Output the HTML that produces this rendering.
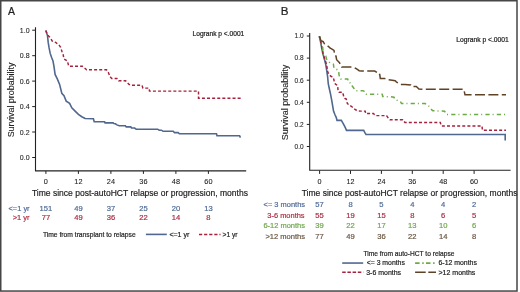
<!DOCTYPE html>
<html><head><meta charset="utf-8"><style>
html,body{margin:0;padding:0;background:#fff;}
svg{display:block;will-change:transform;font-family:"Liberation Sans",sans-serif;}
</style></head><body>
<svg width="520" height="292" viewBox="0 0 520 292">
<rect x="0" y="0" width="520" height="292" fill="#fff"/>
<path d="M35.5,27.3 V171 M35,170.9 H246.2" stroke="#222" stroke-width="1.1" fill="none"/>
<path d="M32.2,157.5 H35.5" stroke="#222" stroke-width="1"/>
<text x="29.6" y="160.0" font-size="7" text-anchor="end" fill="#222" stroke="#222" stroke-width="0.08">0.0</text>
<path d="M32.2,132.0 H35.5" stroke="#222" stroke-width="1"/>
<text x="29.6" y="134.54" font-size="7" text-anchor="end" fill="#222" stroke="#222" stroke-width="0.08">0.2</text>
<path d="M32.2,106.6 H35.5" stroke="#222" stroke-width="1"/>
<text x="29.6" y="109.08" font-size="7" text-anchor="end" fill="#222" stroke="#222" stroke-width="0.08">0.4</text>
<path d="M32.2,81.1 H35.5" stroke="#222" stroke-width="1"/>
<text x="29.6" y="83.62" font-size="7" text-anchor="end" fill="#222" stroke="#222" stroke-width="0.08">0.6</text>
<path d="M32.2,55.7 H35.5" stroke="#222" stroke-width="1"/>
<text x="29.6" y="58.16" font-size="7" text-anchor="end" fill="#222" stroke="#222" stroke-width="0.08">0.8</text>
<path d="M32.2,30.2 H35.5" stroke="#222" stroke-width="1"/>
<text x="29.6" y="32.7" font-size="7" text-anchor="end" fill="#222" stroke="#222" stroke-width="0.08">1.0</text>
<path d="M45.9,171 V173.9" stroke="#222" stroke-width="1"/>
<text x="45.9" y="183.6" font-size="7.3" text-anchor="middle" fill="#222" stroke="#222" stroke-width="0.08">0</text>
<path d="M78.4,171 V173.9" stroke="#222" stroke-width="1"/>
<text x="78.4" y="183.6" font-size="7.3" text-anchor="middle" fill="#222" stroke="#222" stroke-width="0.08">12</text>
<path d="M110.9,171 V173.9" stroke="#222" stroke-width="1"/>
<text x="110.9" y="183.6" font-size="7.3" text-anchor="middle" fill="#222" stroke="#222" stroke-width="0.08">24</text>
<path d="M143.4,171 V173.9" stroke="#222" stroke-width="1"/>
<text x="143.4" y="183.6" font-size="7.3" text-anchor="middle" fill="#222" stroke="#222" stroke-width="0.08">36</text>
<path d="M175.9,171 V173.9" stroke="#222" stroke-width="1"/>
<text x="175.9" y="183.6" font-size="7.3" text-anchor="middle" fill="#222" stroke="#222" stroke-width="0.08">48</text>
<path d="M208.4,171 V173.9" stroke="#222" stroke-width="1"/>
<text x="208.4" y="183.6" font-size="7.3" text-anchor="middle" fill="#222" stroke="#222" stroke-width="0.08">60</text>
<path d="M309.7,33.1 V170.8 M309.2,170.3 H510.6" stroke="#222" stroke-width="1.1" fill="none"/>
<path d="M306.8,146.5 H309.7" stroke="#222" stroke-width="1"/>
<text x="303.6" y="148.8" font-size="6.5" text-anchor="end" fill="#222" stroke="#222" stroke-width="0.08">0.0</text>
<path d="M306.8,124.4 H309.7" stroke="#222" stroke-width="1"/>
<text x="303.6" y="126.7" font-size="6.5" text-anchor="end" fill="#222" stroke="#222" stroke-width="0.08">0.2</text>
<path d="M306.8,102.3 H309.7" stroke="#222" stroke-width="1"/>
<text x="303.6" y="104.6" font-size="6.5" text-anchor="end" fill="#222" stroke="#222" stroke-width="0.08">0.4</text>
<path d="M306.8,80.2 H309.7" stroke="#222" stroke-width="1"/>
<text x="303.6" y="82.5" font-size="6.5" text-anchor="end" fill="#222" stroke="#222" stroke-width="0.08">0.6</text>
<path d="M306.8,58.1 H309.7" stroke="#222" stroke-width="1"/>
<text x="303.6" y="60.39999999999999" font-size="6.5" text-anchor="end" fill="#222" stroke="#222" stroke-width="0.08">0.8</text>
<path d="M306.8,36.0 H309.7" stroke="#222" stroke-width="1"/>
<text x="303.6" y="38.3" font-size="6.5" text-anchor="end" fill="#222" stroke="#222" stroke-width="0.08">1.0</text>
<path d="M319.6,170.5 V173.9" stroke="#222" stroke-width="1"/>
<text x="319.6" y="183.6" font-size="7.2" text-anchor="middle" fill="#222" stroke="#222" stroke-width="0.08">0</text>
<path d="M350.5,170.5 V173.9" stroke="#222" stroke-width="1"/>
<text x="350.5" y="183.6" font-size="7.2" text-anchor="middle" fill="#222" stroke="#222" stroke-width="0.08">12</text>
<path d="M381.4,170.5 V173.9" stroke="#222" stroke-width="1"/>
<text x="381.40000000000003" y="183.6" font-size="7.2" text-anchor="middle" fill="#222" stroke="#222" stroke-width="0.08">24</text>
<path d="M412.3,170.5 V173.9" stroke="#222" stroke-width="1"/>
<text x="412.3" y="183.6" font-size="7.2" text-anchor="middle" fill="#222" stroke="#222" stroke-width="0.08">36</text>
<path d="M443.2,170.5 V173.9" stroke="#222" stroke-width="1"/>
<text x="443.20000000000005" y="183.6" font-size="7.2" text-anchor="middle" fill="#222" stroke="#222" stroke-width="0.08">48</text>
<path d="M474.1,170.5 V173.9" stroke="#222" stroke-width="1"/>
<text x="474.1" y="183.6" font-size="7.2" text-anchor="middle" fill="#222" stroke="#222" stroke-width="0.08">60</text>
<polyline points="45.8,30.5 47.5,35.6 48.2,42.4 49.1,47.9 50.2,53.4 51.6,57.5 53.0,61.0 54.0,66.7 55.1,74.4 57.3,78.9 59.6,84.4 61.8,93.3 64.0,95.6 66.2,101.1 69.6,103.3 71.8,107.8 75.1,111.1 78.4,114.4 81.8,116.7 85.1,118.5 93.4,118.8 94.2,121.8 104.6,121.8 105.1,122.9 113.1,122.9 113.8,123.6 115.4,123.8 116.9,124.9 119.2,125.8 125.4,125.8 126.2,126.9 130.8,126.9 131.5,128.0 134.6,128.0 136.2,129.2 157.7,129.2 159.2,130.2 161.5,130.2 163.1,131.3 173.2,131.3 174.5,132.6 178.1,132.6 179.4,133.8 216.5,133.8 217.0,135.8 239.6,135.8 240.4,137.6" fill="none" stroke="#50678f" stroke-width="1.6" stroke-linejoin="miter"/>
<polyline points="45.8,30.5 47.5,34.9 50.2,37.6 52.3,41.1 55.7,42.4 59.1,45.2 60.5,47.2 61.9,51.3 63.2,54.8 63.9,58.9 67.3,60.9 68.8,66.2 82.3,66.2 84.0,67.5 86.6,69.8 106.5,69.8 108.3,72.3 110.0,76.6 111.7,78.4 116.9,78.4 118.6,80.8 125.6,80.8 129.0,84.4 130.7,85.3 142.0,85.3 142.9,88.1 149.0,88.1 149.5,91.1 198.5,91.1 198.5,98.2 241.2,98.2" fill="none" stroke="#a6213b" stroke-width="1.45" stroke-linejoin="miter" stroke-dasharray="3 2.1"/>
<polyline points="319.4,36.3 320.6,42.0 321.7,48.0 322.7,53.0 324.1,58.0 325.7,64.2 326.7,70.3 327.6,76.5 328.3,84.0 329.5,89.5 330.6,94.3 331.5,99.1 332.2,103.2 332.9,107.3 333.6,111.4 335.0,114.8 336.3,117.6 337.0,120.4 341.3,120.4 343.1,123.3 345.2,127.4 346.5,130.4 363.7,130.4 365.0,132.9 366.0,134.5 505.2,134.5 505.2,140.4" fill="none" stroke="#50678f" stroke-width="1.6" stroke-linejoin="miter"/>
<polyline points="319.4,36.3 320.8,42.0 322.0,48.0 323.2,54.0 324.6,59.0 326.2,63.1 327.2,68.3 327.7,71.4 328.7,74.4 331.3,76.5 332.8,77.0 333.9,79.6 334.4,82.7 335.5,84.1 337.6,85.6 338.1,90.7 339.1,92.3 342.7,92.3 343.2,94.3 343.8,96.9 344.8,98.4 346.3,99.0 346.8,101.5 347.4,103.6 348.9,104.8 351.0,106.2 352.5,107.2 354.6,109.2 356.1,110.0 358.7,111.0 360.7,111.1 365.2,111.1 365.7,113.5 373.4,113.5 375.4,115.6 386.6,115.6 388.3,118.1 390.0,119.8 402.8,119.8 404.9,122.4 440.3,122.4 441.3,125.9 482.0,125.9 482.4,130.2 506.0,130.2" fill="none" stroke="#a6213b" stroke-width="1.45" stroke-linejoin="miter" stroke-dasharray="3 2.1"/>
<polyline points="319.4,36.3 320.6,43.2 321.1,46.3 322.7,47.4 323.2,55.6 325.8,56.1 326.5,59.0 329.2,62.1 330.3,63.1 333.4,64.2 333.9,67.8 335.4,68.8 338.5,70.3 339.0,74.4 339.5,77.0 340.6,79.1 347.7,79.1 348.4,82.0 351.5,83.5 352.0,85.6 353.5,87.7 354.6,89.7 355.6,90.7 363.1,90.7 364.7,91.7 365.2,93.7 366.2,94.2 382.2,94.2 382.7,96.5 390.9,96.8 394.0,97.3 395.0,99.4 397.0,100.3 398.3,100.3 400.5,101.7 401.5,103.6 425.2,103.6 427.4,105.5 429.5,106.5 430.6,108.7 432.8,110.8 444.6,111.2 445.7,113.0 446.7,114.6 506.0,114.6" fill="none" stroke="#6cab45" stroke-width="1.5" stroke-linejoin="miter" stroke-dasharray="4.2 3 1 3.2"/>
<polyline points="319.4,36.3 320.1,38.6 321.1,40.7 323.2,41.7 324.7,44.3 326.8,45.3 328.8,46.8 329.9,47.9 332.4,49.4 334.0,50.4 334.5,53.5 335.0,55.6 336.0,56.1 336.6,59.7 338.1,61.2 339.5,62.6 340.6,65.2 341.6,67.1 351.5,67.1 354.6,67.7 356.2,68.7 357.7,69.7 359.2,70.7 361.3,71.0 374.7,71.0 376.9,72.3 378.8,72.3 379.8,74.8 380.3,78.4 384.4,78.4 386.5,79.0 388.6,79.8 392.2,80.3 395.2,80.8 396.3,81.8 397.8,82.8 398.8,83.4 401.4,84.4 405.0,84.4 410.7,84.9 411.7,86.4 416.3,86.4 417.9,88.0 418.9,89.0 423.0,89.3 463.8,89.3 465.0,94.8 506.0,94.8" fill="none" stroke="#5f4327" stroke-width="1.5" stroke-linejoin="miter" stroke-dasharray="10 3.4"/>
<text x="8.06" y="14.5" font-size="10.8" text-anchor="start" fill="#222" stroke="#222" stroke-width="0.2" textLength="6.98" lengthAdjust="spacingAndGlyphs">A</text>
<text x="280.87" y="14.8" font-size="10.8" text-anchor="start" fill="#222" stroke="#222" stroke-width="0.2" textLength="7.75" lengthAdjust="spacingAndGlyphs">B</text>
<text x="192.58" y="35.5" font-size="6.5" text-anchor="start" fill="#222" stroke="#222" stroke-width="0.2" textLength="51.68" lengthAdjust="spacingAndGlyphs">Logrank p &lt;.0001</text>
<text x="456.17" y="41.9" font-size="6.5" text-anchor="start" fill="#222" stroke="#222" stroke-width="0.2" textLength="52.65" lengthAdjust="spacingAndGlyphs">Logrank p &lt;.0001</text>
<text x="31.9" y="196.3" font-size="9.8" text-anchor="start" fill="#222" stroke="#222" stroke-width="0.2" textLength="216.0" lengthAdjust="spacingAndGlyphs">Time since post-autoHCT relapse or progression, months</text>
<text x="301.7" y="196.2" font-size="9.7" text-anchor="start" fill="#222" stroke="#222" stroke-width="0.2" textLength="215.8" lengthAdjust="spacingAndGlyphs">Time since post-autoHCT relapse or progression, months</text>
<text x="8.48" y="210.7" font-size="7.6" text-anchor="start" fill="#4f6b98" stroke="#4f6b98" stroke-width="0.2" textLength="21.13" lengthAdjust="spacingAndGlyphs">&lt;=1 yr</text>
<text x="12.76" y="219.8" font-size="7.6" text-anchor="start" fill="#ad2f46" stroke="#ad2f46" stroke-width="0.2" textLength="16.8" lengthAdjust="spacingAndGlyphs">&gt;1 yr</text>
<text x="42.9" y="236.9" font-size="7.4" text-anchor="start" fill="#222" stroke="#222" stroke-width="0.2" textLength="92.8" lengthAdjust="spacingAndGlyphs">Time from transplant to relapse</text>
<text x="169.4" y="236.5" font-size="7.4" text-anchor="start" fill="#222" stroke="#222" stroke-width="0.2" textLength="19.9" lengthAdjust="spacingAndGlyphs">&lt;=1 yr</text>
<text x="222.6" y="236.5" font-size="7.4" text-anchor="start" fill="#222" stroke="#222" stroke-width="0.2" textLength="14.95" lengthAdjust="spacingAndGlyphs">&gt;1 yr</text>
<text x="263.59" y="207.4" font-size="7.6" text-anchor="start" fill="#4f6b98" stroke="#4f6b98" stroke-width="0.2" textLength="41.43" lengthAdjust="spacingAndGlyphs">&lt;= 3 months</text>
<text x="267.33" y="217.7" font-size="7.6" text-anchor="start" fill="#ad2f46" stroke="#ad2f46" stroke-width="0.2" textLength="37.24" lengthAdjust="spacingAndGlyphs">3-6 months</text>
<text x="263.48" y="228.1" font-size="7.6" text-anchor="start" fill="#6fa84c" stroke="#6fa84c" stroke-width="0.2" textLength="41.53" lengthAdjust="spacingAndGlyphs">6-12 months</text>
<text x="265.4" y="238.5" font-size="7.6" text-anchor="start" fill="#6a5744" stroke="#6a5744" stroke-width="0.2" textLength="39.59" lengthAdjust="spacingAndGlyphs">&gt;12 months</text>
<text x="363.4" y="255.8" font-size="7.4" text-anchor="start" fill="#222" stroke="#222" stroke-width="0.2" textLength="91.1" lengthAdjust="spacingAndGlyphs">Time from auto-HCT to relapse</text>
<text x="366.72" y="265.2" font-size="7.4" text-anchor="start" fill="#222" stroke="#222" stroke-width="0.2" textLength="38.16" lengthAdjust="spacingAndGlyphs">&lt;= 3 months</text>
<text x="366.25" y="274.5" font-size="7.4" text-anchor="start" fill="#222" stroke="#222" stroke-width="0.2" textLength="34.8" lengthAdjust="spacingAndGlyphs">3-6 months</text>
<text x="438.52" y="265.2" font-size="7.4" text-anchor="start" fill="#222" stroke="#222" stroke-width="0.2" textLength="38.37" lengthAdjust="spacingAndGlyphs">6-12 months</text>
<text x="438.53" y="274.5" font-size="7.4" text-anchor="start" fill="#222" stroke="#222" stroke-width="0.2" textLength="36.84" lengthAdjust="spacingAndGlyphs">&gt;12 months</text>
<text transform="translate(14.4,137.35) rotate(-90)" font-size="9.7" fill="#222" stroke="#222" stroke-width="0.1" textLength="74.85" lengthAdjust="spacingAndGlyphs">Survival probability</text>
<text transform="translate(288.4,140.25) rotate(-90)" font-size="9.7" fill="#222" stroke="#222" stroke-width="0.1" textLength="75.45" lengthAdjust="spacingAndGlyphs">Survival probability</text>
<text x="45.9" y="210.6" font-size="7.6" text-anchor="middle" fill="#4f6b98" stroke="#4f6b98" stroke-width="0.2">151</text>
<text x="78.4" y="210.6" font-size="7.6" text-anchor="middle" fill="#4f6b98" stroke="#4f6b98" stroke-width="0.2">49</text>
<text x="110.9" y="210.6" font-size="7.6" text-anchor="middle" fill="#4f6b98" stroke="#4f6b98" stroke-width="0.2">37</text>
<text x="143.4" y="210.6" font-size="7.6" text-anchor="middle" fill="#4f6b98" stroke="#4f6b98" stroke-width="0.2">25</text>
<text x="175.9" y="210.6" font-size="7.6" text-anchor="middle" fill="#4f6b98" stroke="#4f6b98" stroke-width="0.2">20</text>
<text x="208.4" y="210.6" font-size="7.6" text-anchor="middle" fill="#4f6b98" stroke="#4f6b98" stroke-width="0.2">13</text>
<text x="45.9" y="219.8" font-size="7.6" text-anchor="middle" fill="#ad2f46" stroke="#ad2f46" stroke-width="0.2">77</text>
<text x="78.4" y="219.8" font-size="7.6" text-anchor="middle" fill="#ad2f46" stroke="#ad2f46" stroke-width="0.2">49</text>
<text x="110.9" y="219.8" font-size="7.6" text-anchor="middle" fill="#ad2f46" stroke="#ad2f46" stroke-width="0.2">36</text>
<text x="143.4" y="219.8" font-size="7.6" text-anchor="middle" fill="#ad2f46" stroke="#ad2f46" stroke-width="0.2">22</text>
<text x="175.9" y="219.8" font-size="7.6" text-anchor="middle" fill="#ad2f46" stroke="#ad2f46" stroke-width="0.2">14</text>
<text x="208.4" y="219.8" font-size="7.6" text-anchor="middle" fill="#ad2f46" stroke="#ad2f46" stroke-width="0.2">8</text>
<text x="319.6" y="207.4" font-size="7.6" text-anchor="middle" fill="#4f6b98" stroke="#4f6b98" stroke-width="0.2">57</text>
<text x="350.5" y="207.4" font-size="7.6" text-anchor="middle" fill="#4f6b98" stroke="#4f6b98" stroke-width="0.2">8</text>
<text x="381.40000000000003" y="207.4" font-size="7.6" text-anchor="middle" fill="#4f6b98" stroke="#4f6b98" stroke-width="0.2">5</text>
<text x="412.3" y="207.4" font-size="7.6" text-anchor="middle" fill="#4f6b98" stroke="#4f6b98" stroke-width="0.2">4</text>
<text x="443.20000000000005" y="207.4" font-size="7.6" text-anchor="middle" fill="#4f6b98" stroke="#4f6b98" stroke-width="0.2">4</text>
<text x="474.1" y="207.4" font-size="7.6" text-anchor="middle" fill="#4f6b98" stroke="#4f6b98" stroke-width="0.2">2</text>
<text x="319.6" y="217.7" font-size="7.6" text-anchor="middle" fill="#ad2f46" stroke="#ad2f46" stroke-width="0.2">55</text>
<text x="350.5" y="217.7" font-size="7.6" text-anchor="middle" fill="#ad2f46" stroke="#ad2f46" stroke-width="0.2">19</text>
<text x="381.40000000000003" y="217.7" font-size="7.6" text-anchor="middle" fill="#ad2f46" stroke="#ad2f46" stroke-width="0.2">15</text>
<text x="412.3" y="217.7" font-size="7.6" text-anchor="middle" fill="#ad2f46" stroke="#ad2f46" stroke-width="0.2">8</text>
<text x="443.20000000000005" y="217.7" font-size="7.6" text-anchor="middle" fill="#ad2f46" stroke="#ad2f46" stroke-width="0.2">6</text>
<text x="474.1" y="217.7" font-size="7.6" text-anchor="middle" fill="#ad2f46" stroke="#ad2f46" stroke-width="0.2">5</text>
<text x="319.6" y="228.1" font-size="7.6" text-anchor="middle" fill="#6fa84c" stroke="#6fa84c" stroke-width="0.2">39</text>
<text x="350.5" y="228.1" font-size="7.6" text-anchor="middle" fill="#6fa84c" stroke="#6fa84c" stroke-width="0.2">22</text>
<text x="381.40000000000003" y="228.1" font-size="7.6" text-anchor="middle" fill="#6fa84c" stroke="#6fa84c" stroke-width="0.2">17</text>
<text x="412.3" y="228.1" font-size="7.6" text-anchor="middle" fill="#6fa84c" stroke="#6fa84c" stroke-width="0.2">13</text>
<text x="443.20000000000005" y="228.1" font-size="7.6" text-anchor="middle" fill="#6fa84c" stroke="#6fa84c" stroke-width="0.2">10</text>
<text x="474.1" y="228.1" font-size="7.6" text-anchor="middle" fill="#6fa84c" stroke="#6fa84c" stroke-width="0.2">6</text>
<text x="319.6" y="238.5" font-size="7.6" text-anchor="middle" fill="#6a5744" stroke="#6a5744" stroke-width="0.2">77</text>
<text x="350.5" y="238.5" font-size="7.6" text-anchor="middle" fill="#6a5744" stroke="#6a5744" stroke-width="0.2">49</text>
<text x="381.40000000000003" y="238.5" font-size="7.6" text-anchor="middle" fill="#6a5744" stroke="#6a5744" stroke-width="0.2">36</text>
<text x="412.3" y="238.5" font-size="7.6" text-anchor="middle" fill="#6a5744" stroke="#6a5744" stroke-width="0.2">22</text>
<text x="443.20000000000005" y="238.5" font-size="7.6" text-anchor="middle" fill="#6a5744" stroke="#6a5744" stroke-width="0.2">14</text>
<text x="474.1" y="238.5" font-size="7.6" text-anchor="middle" fill="#6a5744" stroke="#6a5744" stroke-width="0.2">8</text>
<path d="M145.9,234.4 H166.8" stroke="#50678f" stroke-width="1.6"/>
<path d="M199,234.5 H220.5" stroke="#a6213b" stroke-width="1.6" stroke-dasharray="3.2 1.9"/>
<path d="M342.2,263.05 H363.2" stroke="#50678f" stroke-width="1.6"/>
<path d="M342.2,272.3 H363.2" stroke="#a6213b" stroke-width="1.6" stroke-dasharray="3.5 1.7"/>
<path d="M415.1,263.1 H436" stroke="#6cab45" stroke-width="1.6" stroke-dasharray="4.5 2.6 1.5 2.3"/>
<path d="M415.1,272.3 H436" stroke="#5f4327" stroke-width="1.6" stroke-dasharray="10.6 2.6"/>
<rect x="0.75" y="0.75" width="516.25" height="290.3" fill="none" stroke="#464646" stroke-width="1.5"/>
</svg>
</body></html>
